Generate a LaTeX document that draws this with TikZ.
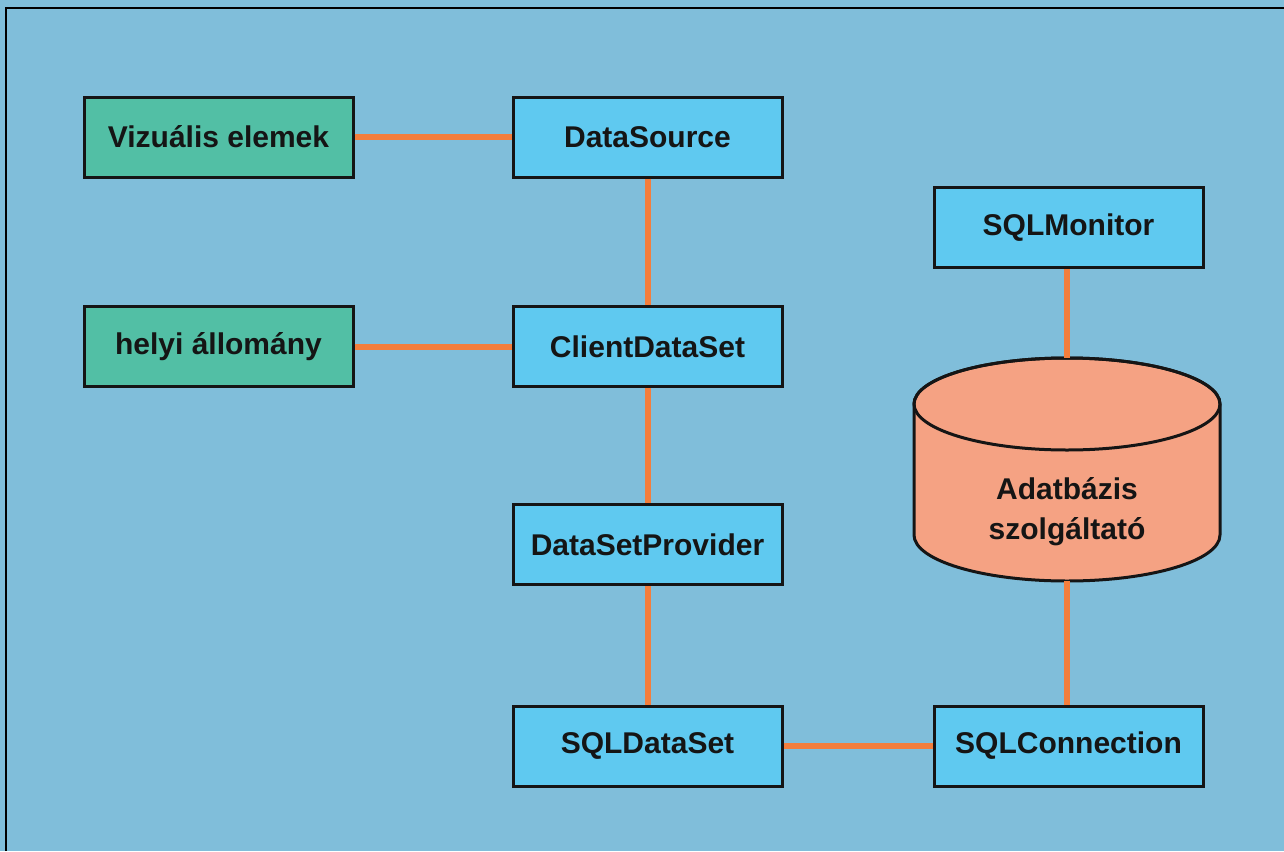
\documentclass[tikz,border=0pt]{standalone}
\usepackage{fontspec}
\setmainfont{Liberation Sans}
\definecolor{bgblue}{HTML}{80BEDA}
\definecolor{boxblue}{HTML}{5FC9F0}
\definecolor{boxteal}{HTML}{52BFA5}
\definecolor{cylsalmon}{HTML}{F5A283}
\definecolor{linkorange}{HTML}{F47E3C}
\definecolor{inkblack}{HTML}{151515}
\begin{document}
\begin{tikzpicture}[x=1pt,y=-1pt,
  compbox/.style={draw=inkblack, line width=3pt, rectangle, minimum width=269pt, minimum height=80pt,
    inner sep=0pt, font=\fontsize{30}{34}\selectfont\bfseries, text=inkblack, fill=boxblue},
  tealbox/.style={compbox, fill=boxteal},
  link/.style={draw=linkorange, line width=6pt},
  frameline/.style={draw=black, line width=2pt}]
\useasboundingbox (0,0) rectangle (1284,851);
\fill[bgblue] (0,0) rectangle (1284,851);
\draw[frameline] (6,851) -- (6,8) -- (1284,8);

% cylinder
\filldraw[fill=cylsalmon, draw=inkblack, line width=3pt]
  (914,404) -- (914,535) arc[start angle=180, end angle=360, x radius=153, y radius=-46]
  -- (1220,404) arc[start angle=0, end angle=180, x radius=153, y radius=-46] -- cycle;
\draw[inkblack, line width=3pt] (1067,404) ellipse[x radius=153, y radius=46];
\coordinate (cyltop) at (1067,358);
\coordinate (cylbot) at (1067,581);
\node[font=\fontsize{30}{40}\selectfont\bfseries, text=inkblack, align=center] (db) at (1067,512) {Adatbázis\\szolgáltató};

\node[tealbox] (viz) at (218.5,137) {Vizuális elemek};
\node[compbox] (ds) at (647.5,137) {DataSource};
\node[compbox] (mon) at (1068.5,227.5) {SQLMonitor};
\node[tealbox] (helyi) at (218.5,346.5) {helyi állomány};
\node[compbox] (cds) at (647.5,346.5) {ClientDataSet};
\node[compbox] (dsp) at (647.5,544.5) {DataSetProvider};
\node[compbox] (sqlds) at (647.5,746) {SQLDataSet};
\node[compbox] (conn) at (1068.5,746) {SQLConnection};

\draw[link] (viz.east) -- (ds.west);
\draw[link] (helyi.east) -- (cds.west);
\draw[link] (ds.south) -- (cds.north);
\draw[link] (cds.south) -- (dsp.north);
\draw[link] (dsp.south) -- (sqlds.north);
\draw[link] (sqlds.east) -- (conn.west);
\draw[link] (mon.south -| cyltop) -- (cyltop);
\draw[link] (cylbot) -- (conn.north -| cylbot);
\end{tikzpicture}
\end{document}
